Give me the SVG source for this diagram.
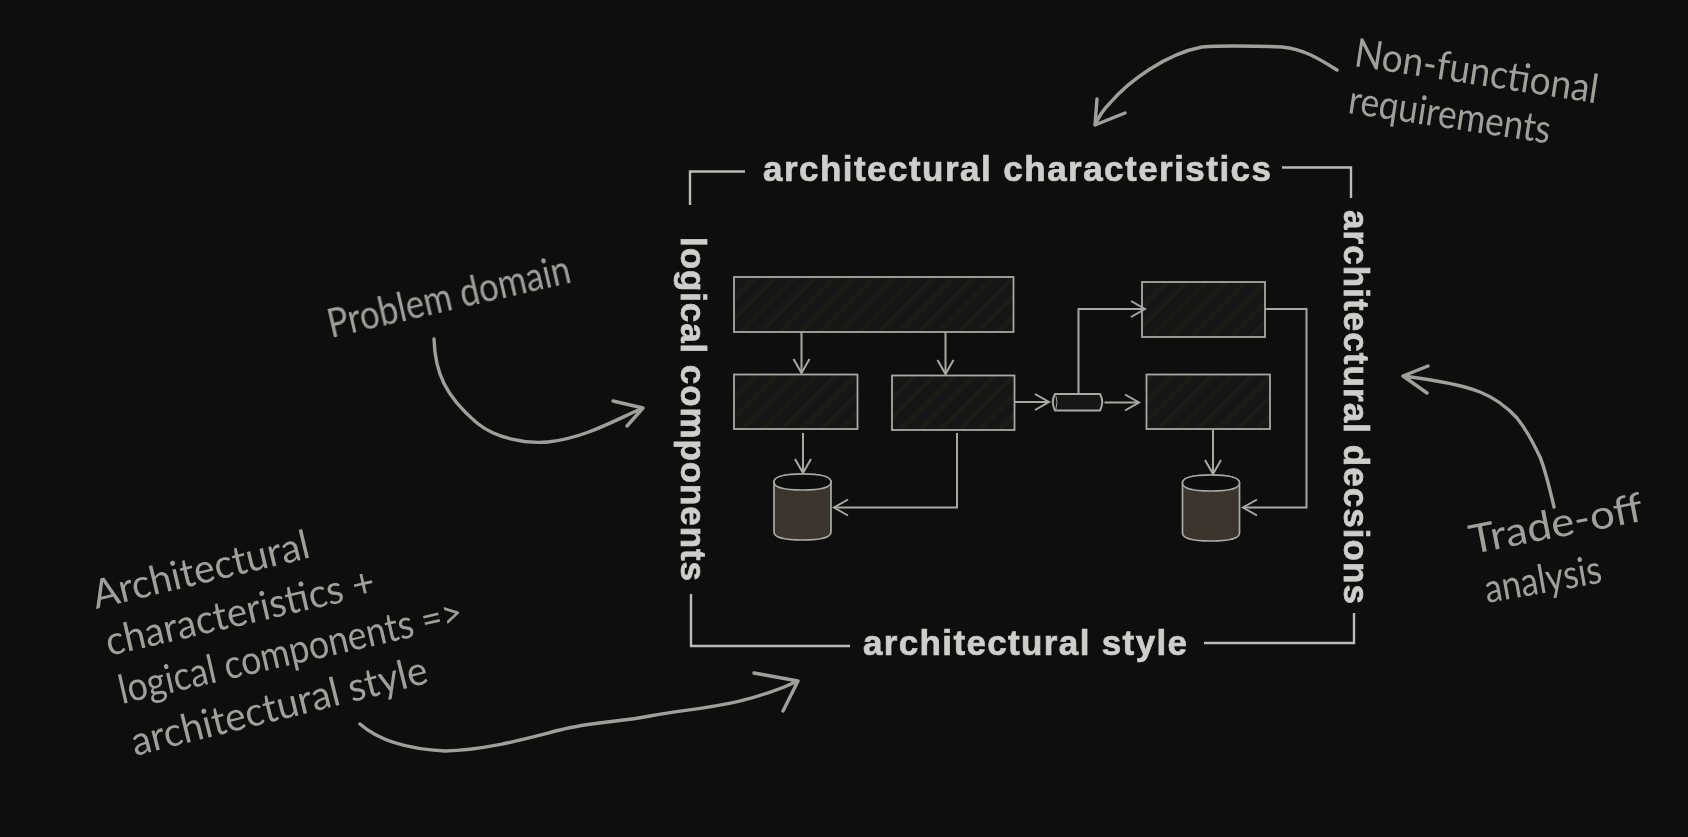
<svg xmlns="http://www.w3.org/2000/svg" width="1688" height="837" viewBox="0 0 1688 837">
<style>
.lbl{font-family:"Liberation Sans",Arial,sans-serif;font-weight:700;font-size:35px;fill:#cfcecb;stroke:#cfcecb;stroke-width:.7}
.hand{font-family:Lato,"Open Sans",sans-serif;font-weight:400;font-size:40px;fill:#a19f9a}
.box{fill:url(#hatch);stroke:#a9a8a3;stroke-width:1.800}
.cyl{fill:#3a362f;stroke:#a9a8a3;stroke-width:1.700}
.conn{fill:none;stroke:#a9a8a3;stroke-width:2;marker-end:url(#open)}
.frame{fill:none;stroke:#bcbbb7;stroke-width:2.400}
.sk{fill:none;stroke:#a19f9a;stroke-width:3.400;stroke-linecap:round;stroke-linejoin:round}
</style>
<defs>
<pattern id="hatch" width="14" height="14" patternUnits="userSpaceOnUse" patternTransform="rotate(45)">
<rect width="14" height="14" fill="#161513"/>
<rect width="5" height="14" fill="#1c1b18"/>
</pattern>
<marker id="open" markerUnits="userSpaceOnUse" markerWidth="26" markerHeight="26" refX="19" refY="13" orient="auto">
<path d="M5 5 L19 13 L5 21" fill="none" stroke="#a9a8a3" stroke-width="2"/>
</marker>
<filter id="soft" x="-2%" y="-2%" width="104%" height="104%"><feGaussianBlur stdDeviation="0.7"/></filter>
</defs>
<rect width="1688" height="837" fill="#0e0e0f"/>
<g filter="url(#soft)">
<g id="frame">
<path class="frame" d="M690 205V171.500H745"/>
<path class="frame" d="M1282 167.500H1351V198"/>
<path class="frame" d="M691 594V646H850"/>
<path class="frame" d="M1204 643H1354V613"/>
</g>
<g id="label-characteristics"><text class="lbl" x="763" y="181" textLength="508">architectural characteristics</text></g>
<g id="label-style"><text class="lbl" x="863" y="654.500" textLength="324">architectural style</text></g>
<g id="label-components"><text class="lbl" transform="translate(681 237) rotate(90)" textLength="344">logical components</text></g>
<g id="label-decisions"><text class="lbl" transform="translate(1344 210) rotate(90)" textLength="394">architectural decsions</text></g>
<g id="node-top"><rect class="box" x="734" y="277" width="279.500" height="55"/></g>
<g id="node-left"><rect class="box" x="734" y="374.500" width="123.500" height="54.500"/></g>
<g id="node-mid"><rect class="box" x="892" y="375.500" width="122.500" height="54.500"/></g>
<g id="node-right-top"><rect class="box" x="1142" y="282" width="123" height="55"/></g>
<g id="node-right-mid"><rect class="box" x="1146.500" y="374.500" width="123.500" height="54.500"/></g>
<g id="node-queue">
<path d="M1055 394H1100Q1104.500 402 1100 410.500H1055Q1050.500 402 1055 394Z" fill="#131313" stroke="#a9a8a3" stroke-width="2"/>
<path d="M1056 396Q1058 402 1056 409" fill="none" stroke="#a9a8a3" stroke-width="1"/>
</g>
<g id="db-left">
<path class="cyl" d="M774 482V532Q774 540 802.500 540Q831 540 831 532V482Q831 474 802.500 474Q774 474 774 482Z"/>
<path d="M774 482Q774 490 802.500 490Q831 490 831 482Q831 474 802.500 474Q774 474 774 482Z" fill="#0b0b0c" stroke="#a9a8a3" stroke-width="1.700"/>
</g>
<g id="db-right">
<path class="cyl" d="M1182.500 483V533Q1182.500 541 1211 541Q1239.500 541 1239.500 533V483Q1239.500 475 1211 475Q1182.500 475 1182.500 483Z"/>
<path d="M1182.500 483Q1182.500 491 1211 491Q1239.500 491 1239.500 483Q1239.500 475 1211 475Q1182.500 475 1182.500 483Z" fill="#0b0b0c" stroke="#a9a8a3" stroke-width="1.700"/>
</g>
<g id="connectors">
<path class="conn" d="M801.500 332V373"/>
<path class="conn" d="M945.500 332V374"/>
<path class="conn" d="M803 433V473"/>
<path class="conn" d="M1014.500 402H1049"/>
<path class="conn" d="M1104.500 402.500H1139"/>
<path class="conn" d="M1078.500 393V309H1145"/>
<path class="conn" d="M957 433V507.500H834"/>
<path class="conn" d="M1266 309H1306.500V507.500H1243"/>
<path class="conn" d="M1213 430V474"/>
</g>
<g id="note-problem">
<text class="hand" transform="translate(331 338) rotate(-13)" textLength="248" lengthAdjust="spacingAndGlyphs">Problem domain</text>
<path class="sk" d="M434 339C435 372 445 396 477 423C495 438 525 444 548 442C585 438 615 420 643 408M613 401L643 408L627 426"/>
</g>
<g id="note-nfr">
<text class="hand" transform="translate(1353 66) rotate(8.700)" textLength="246" lengthAdjust="spacingAndGlyphs">Non-functional</text>
<text class="hand" transform="translate(1347 113) rotate(8.600)" textLength="204" lengthAdjust="spacingAndGlyphs">requirements</text>
<path class="sk" d="M1337 70C1318 58 1303 49 1282 47C1255 46 1225 45 1202 47C1165 54 1128 82 1110 103C1103 110 1098 118 1095 125M1097 99L1095 125L1125 113"/>
</g>
<g id="note-tradeoff">
<text class="hand" transform="translate(1472 554) rotate(-11)" textLength="176" lengthAdjust="spacingAndGlyphs">Trade-off</text>
<text class="hand" transform="translate(1487 603) rotate(-10)" textLength="118" lengthAdjust="spacingAndGlyphs">analysis</text>
<path class="sk" d="M1554 507C1550 490 1546 472 1540 457C1532 440 1525 428 1517 418C1505 405 1495 398 1480 392C1460 384 1435 380 1403 376M1428 366L1403 376L1427 393"/>
</g>
<g id="note-style">
<text class="hand" transform="translate(96 609) rotate(-13.500)" textLength="222" lengthAdjust="spacingAndGlyphs">Architectural</text>
<text class="hand" transform="translate(109 656) rotate(-13)" textLength="275" lengthAdjust="spacingAndGlyphs">characteristics +</text>
<text class="hand" transform="translate(122 704) rotate(-13)" textLength="352" lengthAdjust="spacingAndGlyphs">logical components =&gt;</text>
<text class="hand" transform="translate(135 756) rotate(-14)" textLength="304" lengthAdjust="spacingAndGlyphs">architectural style</text>
<path class="sk" d="M360 724C378 740 405 749 445 751C485 750 520 740 560 730C590 722 620 722 650 716C690 708 740 708 798 681M754 673L798 681L783 711"/>
</g>
</g>
</svg>
